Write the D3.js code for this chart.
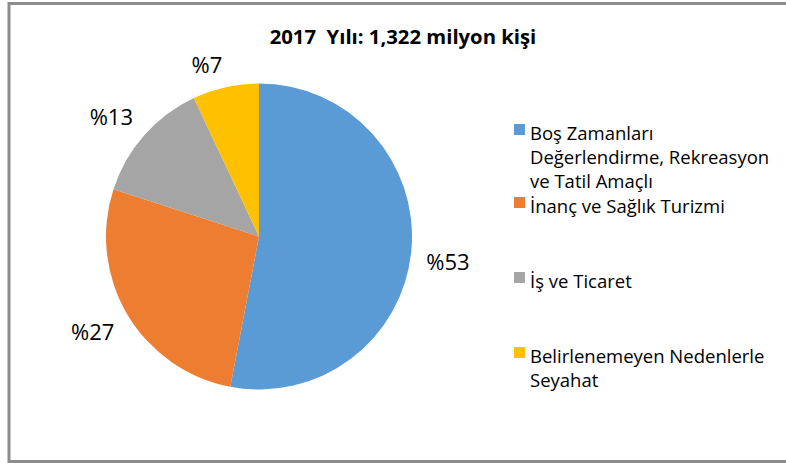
<!DOCTYPE html>
<html>
<head>
<meta charset="utf-8">
<script src="https://cdn.jsdelivr.net/npm/d3@7"></script>
<style>
  body { margin: 0; background: #fff; }
  svg { display: block; font-family: "Open Sans", Lato, sans-serif; }
</style>
</head>
<body>
<div id="chart"></div>
<script>
let width = 786;
let height = 463;

// chart data
let title = "2017  Yılı: 1,322 milyon kişi";
let categories = ["Boş Zamanları Değerlendirme, Rekreasyon ve Tatil Amaçlı", "İnanç ve Sağlık Turizmi", "İş ve Ticaret", "Belirlenemeyen Nedenlerle Seyahat"];
let legendLines = [["Boş Zamanları", "Değerlendirme, Rekreasyon", "ve Tatil Amaçlı"], ["İnanç ve Sağlık Turizmi"], ["İş ve Ticaret"], ["Belirlenemeyen Nedenlerle", "Seyahat"]];
let values = [53, 27, 13, 7];
let colors = ["#5b9bd5", "#ed7d31", "#a5a5a5", "#ffc000"];

let cx = 259, cy = 236.5, r = 153;

let svg = d3.select("#chart").append("svg")
    .attr("width", width)
    .attr("height", height);

// frame (right edge runs off the picture)
svg.append("rect")
    .attr("x", 9).attr("y", 3.5)
    .attr("width", 800).attr("height", 458)
    .attr("fill", "none")
    .attr("stroke", "#8c8c8c")
    .attr("stroke-width", 3);

svg.append("text")
    .attr("x", 403).attr("y", 44)
    .attr("text-anchor", "middle")
    .attr("font-weight", "bold")
    .attr("font-size", 20.3)
    .attr("xml:space", "preserve")
    .style("white-space", "pre")
    .text(title);

let pie = d3.pie().sort(null).value(d => d);
let arcs = pie(values);
let arc = d3.arc().innerRadius(0).outerRadius(r);
let labelR = r + 15;

let g = svg.append("g").attr("transform", `translate(${cx},${cy})`);

g.selectAll("path")
    .data(arcs)
    .enter()
    .append("path")
        .attr("d", arc)
        .attr("fill", (d, i) => colors[i]);

// outside-end labels: box edge sits just off the rim
g.selectAll("text.lbl")
    .data(arcs)
    .enter()
    .append("text")
        .attr("class", "lbl")
        .attr("text-anchor", "middle")
        .attr("dominant-baseline", "central")
        .attr("font-size", 22)
        .attr("fill", "#000")
        .text(d => "%" + d.data)
        .attr("transform", function(d) {
            let a = (d.startAngle + d.endAngle) / 2;
            let s = Math.sin(a), c = Math.cos(a);
            let w = this.getComputedTextLength();
            let x = labelR * s + Math.sign(s) * w / 2;
            let y = -labelR * c - Math.sign(c) * 9;
            return `translate(${x},${y})`;
        });

// legend
let legendY = [140, 213, 288, 363];
let legend = svg.append("g");
legendLines.forEach((lines, i) => {
    legend.append("rect")
        .attr("x", 514).attr("y", legendY[i] - 16)
        .attr("width", 11).attr("height", 11)
        .attr("fill", colors[i]);
    let t = legend.append("text")
        .attr("x", 530).attr("y", legendY[i])
        .attr("font-size", 18.5)
        .attr("fill", "#000");
    lines.forEach((ln, j) => {
        t.append("tspan")
            .attr("x", 530)
            .attr("dy", j == 0 ? 0 : 24)
            .text(ln);
    });
});
</script>
</body>
</html>
